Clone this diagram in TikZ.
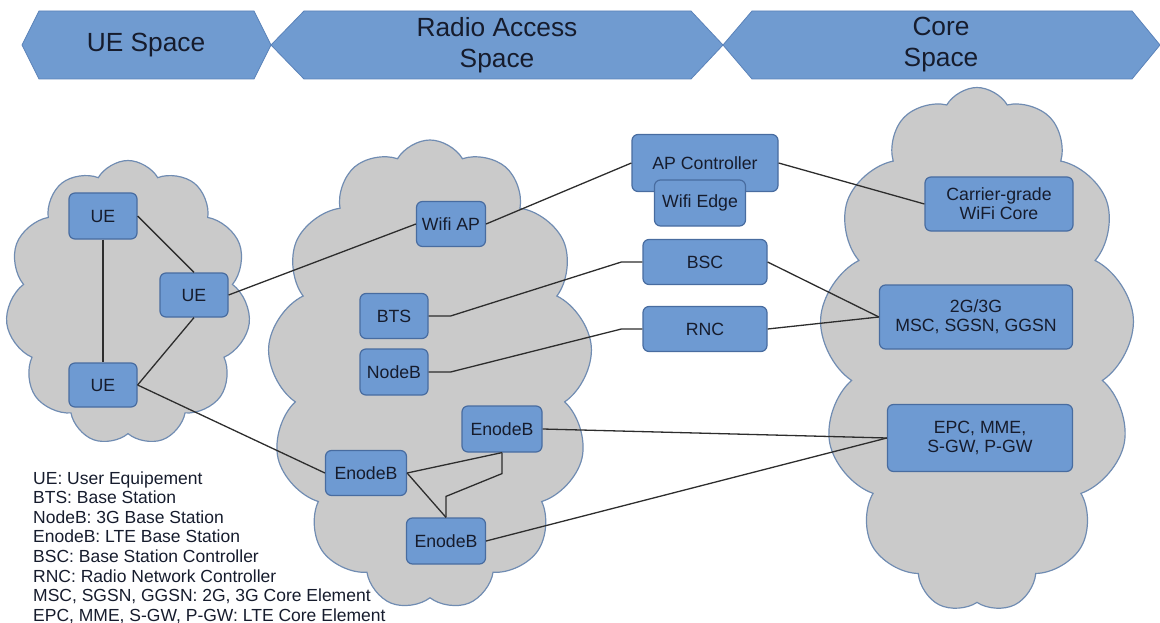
\documentclass[tikz,border=0pt]{standalone}
\usepackage{fontspec}
\setmainfont{Liberation Sans}
\usetikzlibrary{shapes.symbols,calc}
\definecolor{bannerfill}{RGB}{112,155,208}
\definecolor{bannerdraw}{RGB}{90,130,185}
\definecolor{boxfill}{RGB}{110,154,210}
\definecolor{boxdraw}{RGB}{72,108,160}
\definecolor{cloudfill}{RGB}{202,202,202}
\definecolor{clouddraw}{RGB}{112,140,178}
\definecolor{txt}{RGB}{22,28,45}
\definecolor{wirecol}{RGB}{45,45,45}
\begin{document}
\begin{tikzpicture}[x=1pt,y=-1pt,
  box/.style={draw=boxdraw, fill=boxfill, line width=1.2pt, rounded corners=6pt, text=txt, font=\fontsize{17.7}{19}\selectfont, inner sep=0pt, align=center},
  cloudy/.style={cloud, cloud puffs=11, cloud puff arc=120, cloud ignores aspect, draw=clouddraw, fill=cloudfill, line width=1.2pt, inner sep=0pt},
  wire/.style={draw=wirecol, line width=1.3pt},
  banner/.style={fill=bannerfill, draw=bannerdraw, line width=0.8pt},
  bannertext/.style={text=txt, font=\fontsize{26.3}{31}\selectfont, align=center},
  legend/.style={text=txt, font=\fontsize{17.5}{19.7}\selectfont, anchor=base west, inner sep=0pt}
]
\useasboundingbox (0,0) rectangle (1160,623);
% banners
\path[banner] (22,45) -- (39,11) -- (254,11) -- (271,45) -- (254,79) -- (39,79) -- cycle;
\path[banner] (271,45) -- (304,11) -- (691,11) -- (723,45) -- (691,79) -- (304,79) -- cycle;
\path[banner] (723,45) -- (752,11) -- (1132,11) -- (1160,45) -- (1132,79) -- (752,79) -- cycle;
\node[bannertext] (t1) at (146,45) {UE Space};
\node[bannertext] (t2) at (497,45) {Radio Access\\Space};
\node[bannertext] (t3) at (941,45) {Core\\Space};
% clouds
\node[cloudy, minimum width=245pt, minimum height=285pt] (c1) at (128,303) {};
\node[cloudy, cloud puffs=13, minimum width=325pt, minimum height=470pt] (c2) at (430,375) {};
\node[cloudy, cloud puffs=13, minimum width=315pt, minimum height=525pt] (c3) at (977,350) {};
% nodes
\node[box, minimum width=68pt, minimum height=46pt] (ue1) at (103,216) {UE};
\node[box, minimum width=68pt, minimum height=44pt] (ue2) at (194,295) {UE};
\node[box, minimum width=68pt, minimum height=44pt] (ue3) at (103,385) {UE};
\node[box, minimum width=69pt, minimum height=45pt] (wifiap) at (451,224) {Wifi AP};
\node[box, minimum width=68pt, minimum height=45pt] (bts) at (394,316) {BTS};
\node[box, minimum width=68pt, minimum height=46pt] (nodeb) at (394,372) {NodeB};
\node[box, minimum width=80pt, minimum height=46pt] (enb2) at (502,429) {EnodeB};
\node[box, minimum width=81pt, minimum height=45pt] (enb1) at (366,473) {EnodeB};
\node[box, minimum width=79pt, minimum height=46pt] (enb3) at (446,541) {EnodeB};
\node[box, minimum width=146pt, minimum height=57pt] (apc) at (705,163) {AP Controller};
\node[box, minimum width=91pt, minimum height=46pt] (wifiedge) at (700,203) {Wifi Edge};
\node[box, minimum width=124pt, minimum height=45pt] (bsc) at (705,262) {BSC};
\node[box, minimum width=124pt, minimum height=45pt] (rnc) at (705,329) {RNC};
\node[box, minimum width=148pt, minimum height=54pt] (cgw) at (999,204) {Carrier-grade\\WiFi Core};
\node[box, minimum width=193pt, minimum height=64pt] (msc) at (976,317) {2G/3G\\MSC, SGSN, GGSN};
\node[box, minimum width=185pt, minimum height=67pt] (epc) at (980,438) {EPC, MME,\\S-GW, P-GW};
% connectors
\draw[wire] (ue1.south) -- (ue3.north);
\draw[wire] (ue1.east) -- (ue2.north);
\draw[wire] (ue2.south) -- (ue3.east);
\draw[wire] (ue2.east) -- (wifiap.west);
\draw[wire] (ue3.east) -- (enb1.west);
\draw[wire] (wifiap.east) -- (apc.west);
\draw[wire] (apc.east) -- (cgw.west);
\draw[wire] (bts.east) -- ++(22,0) -- ($(bsc.west)+(-21,0)$) -- (bsc.west);
\draw[wire] (nodeb.east) -- ++(22,0) -- ($(rnc.west)+(-21,0)$) -- (rnc.west);
\draw[wire] (bsc.east) -- (msc.west);
\draw[wire] (rnc.east) -- (msc.west);
\draw[wire] (enb1.east) -- (enb2.south);
\draw[wire] (enb1.east) -- (enb3.north);
\draw[wire] (enb2.south) -- ++(0,21) -- ($(enb3.north)+(0,-21)$) -- (enb3.north);
\draw[wire] (enb2.east) -- (epc.west);
\draw[wire] (enb3.east) -- (epc.west);
% legend
\foreach \t [count=\i from 0] in {{UE: User Equipement},{BTS: Base Station},{NodeB: 3G Base Station},{EnodeB: LTE Base Station},{BSC: Base Station Controller},{RNC: Radio Network Controller},{MSC, SGSN, GGSN: 2G, 3G Core Element},{EPC, MME, S-GW, P-GW: LTE Core Element}}
  \node[legend] (leg\i) at (33,484+19.6*\i) {\t};
\end{tikzpicture}
\end{document}
